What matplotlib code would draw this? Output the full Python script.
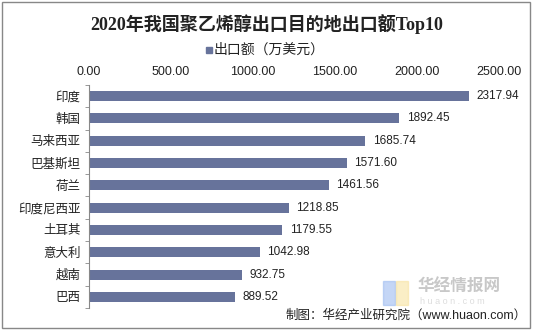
import matplotlib
matplotlib.use("Agg")
import matplotlib.pyplot as plt
from matplotlib.patches import Rectangle

plt.rcParams['font.family'] = ['Liberation Sans', 'Noto Sans CJK SC', 'DejaVu Sans']

countries = ["印度", "韩国", "马来西亚", "巴基斯坦", "荷兰", "印度尼西亚", "土耳其", "意大利", "越南", "巴西"]
values = [2317.94, 1892.45, 1685.74, 1571.60, 1461.56, 1218.85, 1179.55, 1042.98, 932.75, 889.52]
x_ticks = [0, 500, 1000, 1500, 2000, 2500]
title = "2020年我国聚乙烯醇出口目的地出口额Top10"
series_name = "出口额（万美元）"
source = "制图：华经产业研究院（www.huaon.com）"

bar_color = "#67739B"
W, H = 534, 335
fig = plt.figure(figsize=(W / 100, H / 100), dpi=100)

ax = fig.add_axes([89 / W, 1 - 308 / H, (499 - 89) / W, (308 - 85) / H])
ypos = list(range(len(countries)))
ax.barh(ypos, values, height=0.45, color=bar_color, zorder=2)
ax.set_ylim(len(countries) - 0.5, -0.5)
ax.set_xlim(0, 2500)
ax.set_yticks(ypos)
ax.set_yticklabels(countries, fontsize=9, color="#222222")
ax.set_yticks([i - 0.5 for i in range(len(countries) + 1)], minor=True)
ax.tick_params(axis='y', which='major', length=0, pad=6)
ax.tick_params(axis='y', which='minor', length=3, color="#888888")
ax.xaxis.tick_top()
ax.set_xticks(x_ticks)
ax.set_xticklabels([f"{v:.2f}" for v in x_ticks], fontsize=9, color="#222222")
ax.tick_params(axis='x', length=0, pad=5)
for s in ["top", "right", "bottom"]:
    ax.spines[s].set_visible(False)
ax.spines["left"].set_color("#888888")
ax.spines["left"].set_linewidth(0.8)
ax.patch.set_alpha(0)

for y, v in zip(ypos, values):
    ax.text(v + 45, y, f"{v:.2f}", va="center", ha="left", fontsize=8.5, color="#222222")

fig.text(0.5, 1 - 24 / H, title, ha="center", va="center", fontsize=13, fontweight="bold",
         family=["Liberation Serif", "Noto Sans CJK SC"], color="#222222")

# legend
fig.patches.append(Rectangle((206 / W, 1 - 53 / H), 6 / W, 6 / H, transform=fig.transFigure,
                             color=bar_color))
fig.text(214 / W, 1 - 50 / H, series_name, ha="left", va="center", fontsize=10, color="#222222")

# watermark
fig.patches.append(Rectangle((383 / W, 1 - 305 / H), 12 / W, 24 / H, transform=fig.transFigure,
                             color="#9DBCF0", alpha=0.6, zorder=0))
fig.patches.append(Rectangle((396 / W, 1 - 305 / H), 12 / W, 24 / H, transform=fig.transFigure,
                             color="#F7E3A0", alpha=0.6, zorder=0))
fig.text(418 / W, 1 - 287 / H, "华经情报网", fontsize=12, fontweight="bold", color="#C8C8C8",
         ha="left", va="center")
fig.text(420 / W, 1 - 302 / H, "h u a o n . c o m", fontsize=6.5, color="#DDDDDD",
         ha="left", va="center")

fig.text(527 / W, 1 - 316 / H, source, ha="right", va="center", fontsize=9, color="#222222")

# outer frame
fig.patches.append(Rectangle((2 / W, 1 - 328 / H), 528 / W, 326 / H, transform=fig.transFigure,
                             fill=False, edgecolor="#888888", linewidth=1))

fig.savefig("out.png", dpi=100, facecolor="white")
